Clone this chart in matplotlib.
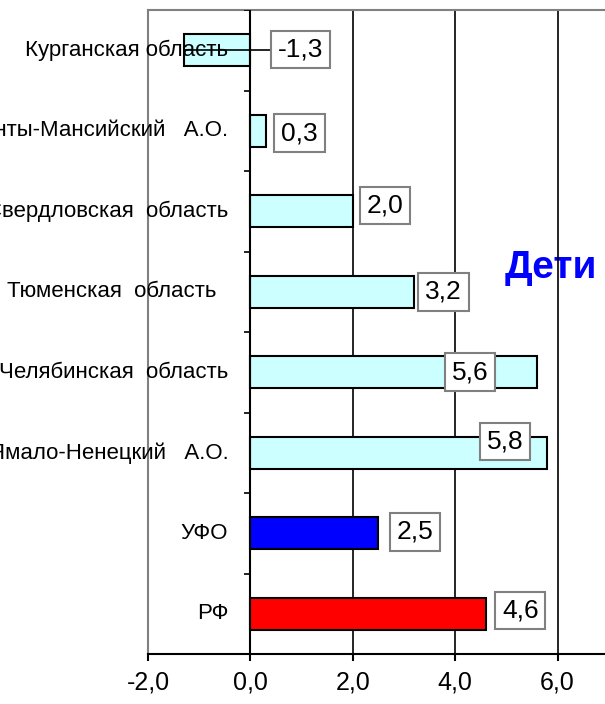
import matplotlib
matplotlib.use('Agg')
import matplotlib.pyplot as plt
from matplotlib.ticker import FuncFormatter

plt.rcParams['font.family'] = ['Liberation Sans', 'DejaVu Sans']

# data, bottom to top
regions = ['РФ', 'УФО', 'Ямало-Ненецкий   А.О.', 'Челябинская  область',
           'Тюменская  область  ', 'Свердловская  область',
           'Ханты-Мансийский   А.О.', 'Курганская область']
values = [4.6, 2.5, 5.8, 5.6, 3.2, 2.0, 0.3, -1.3]
colors = ['#FF0000', '#0000FF'] + ['#CCFFFF'] * 6

# where the value boxes sit (shift from bar end, in x units / category units)
label_dx = [0.67, 0.71, -0.83, -1.31, 0.57, 0.63, 0.66, 2.28]
label_dy = [0.04, 0.02, 0.14, 0.0, 0.0, 0.07, -0.03, 0.01]

fig = plt.figure(figsize=(6.05, 7.04), dpi=100)
ax = fig.add_axes([148 / 605, 50 / 704, (660 - 148) / 605, 644 / 704])

ypos = list(range(len(values)))
ax.barh(ypos, values, height=0.4, color=colors, edgecolor='black',
        linewidth=1.5, zorder=3)

ax.set_xlim(-2, 8)
ax.set_ylim(-0.5, len(values) - 0.5)

# grid and axis line
for x in [2, 4, 6]:
    ax.axvline(x, color='black', lw=1.2, zorder=2)
ax.axvline(0, color='black', lw=1.5, zorder=4)
bounds = [i - 0.5 for i in range(len(values) + 1)]
ax.hlines(bounds, -0.13, 0, color='black', lw=1.2, zorder=4)

for s in ['left', 'top']:
    ax.spines[s].set_color('#808080')
    ax.spines[s].set_linewidth(1.5)
ax.spines['right'].set_visible(False)
ax.spines['bottom'].set_color('black')
ax.spines['bottom'].set_linewidth(1.5)

ax.set_yticks([])
ax.set_xticks([-2, 0, 2, 4, 6])
ax.xaxis.set_major_formatter(FuncFormatter(lambda v, p: f'{v:.1f}'.replace('.', ',')))
ax.tick_params(axis='x', direction='out', length=5, width=1.5, pad=7,
               labelsize=18)

# category labels next to the zero line
for y, name in zip(ypos, regions):
    ax.annotate(name, xy=(0, y), xytext=(-22, 0), textcoords='offset pixels',
                ha='right', va='center', fontsize=16, annotation_clip=False,
                zorder=5)

# value boxes
for y, v, dx, dy in zip(ypos, values, label_dx, label_dy):
    lx = v + dx
    if v < 0:
        ax.plot([v, lx], [y, y], color='black', lw=1.2, zorder=5)
    ax.text(lx, y + dy, f'{v:.1f}'.replace('.', ','), ha='center',
            va='center', fontsize=19, zorder=6,
            bbox=dict(boxstyle='square,pad=0.26', fc='white',
                      ec='#808080', lw=1.5))

ax.text(5.87, 4.3, 'Дети', color='#0000FF', fontsize=28, fontweight='bold',
        ha='center', va='center', zorder=1)

fig.savefig('out.png', dpi=100)
